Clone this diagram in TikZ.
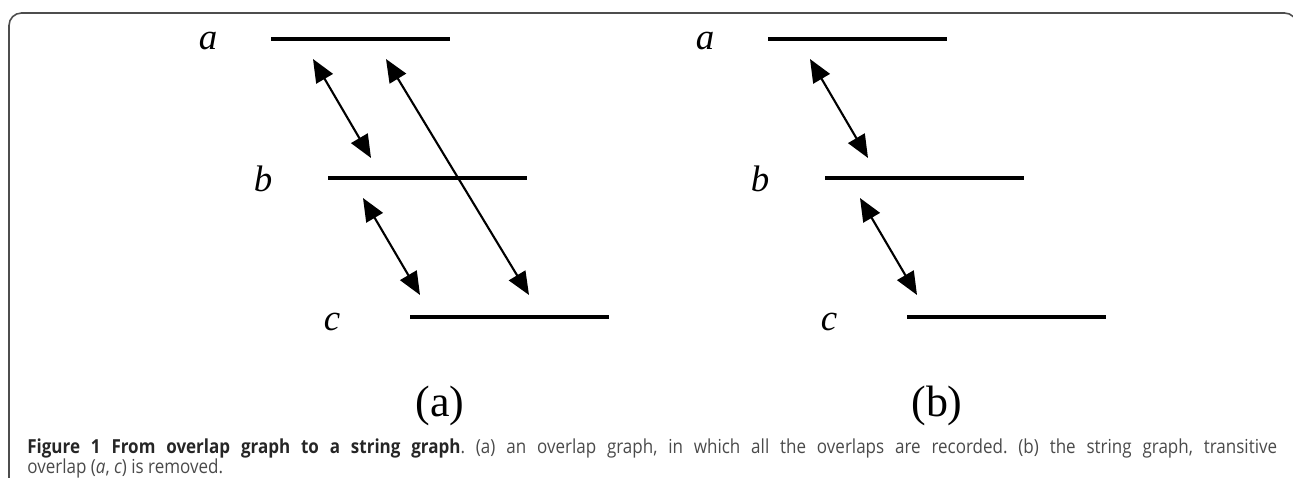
\documentclass[tikz,border=0pt]{standalone}
\usepackage{fontspec}
\setmainfont{Liberation Serif}
\newfontfamily\capfont[FakeStretch=0.88]{Open Sans}
\usetikzlibrary{arrows.meta}
\definecolor{framegray}{HTML}{4D4D4D}
\definecolor{captext}{HTML}{4A4A4A}
\definecolor{capbold}{HTML}{262626}

\begin{document}
\begin{tikzpicture}[x=0.02cm, y=-0.02cm, every node/.style={inner sep=0pt},
    strand/.style={line width=1.8pt},
    ovl/.style={line width=1.2pt, {Triangle[length=0.46cm,width=0.38cm]}-{Triangle[length=0.46cm,width=0.38cm]}},
    lbl/.style={font=\fontsize{21}{24}\selectfont\itshape, anchor=base},
    sub/.style={font=\fontsize{25}{28}\selectfont}]
    \useasboundingbox (0,0) rectangle (1293,477);
    \begin{scope}
        \clip (0,0) rectangle (1293,477);
        \draw[framegray, line width=0.9pt, rounded corners=0.25cm] (9,490) -- (9,13) -- (1297,13) -- (1297,490);
    \end{scope}
    \foreach \p/\dx in {a/0,b/497} {
        \node[lbl] (\p-a) at (208+\dx,49) {a};
        \node[lbl] (\p-b) at (263+\dx,191) {b};
        \node[lbl] (\p-c) at (332+\dx,330) {c};
        \coordinate (\p-a1) at (271+\dx,39); \coordinate (\p-a2) at (450+\dx,39);
        \coordinate (\p-b1) at (328+\dx,178); \coordinate (\p-b2) at (527+\dx,178);
        \coordinate (\p-c1) at (410+\dx,317); \coordinate (\p-c2) at (609+\dx,317);
        \draw[strand] (\p-a1)--(\p-a2) (\p-b1)--(\p-b2) (\p-c1)--(\p-c2);
        \coordinate (\p-ab1) at (313+\dx,59); \coordinate (\p-ab2) at (371+\dx,158);
        \coordinate (\p-bc1) at (363+\dx,198); \coordinate (\p-bc2) at (420+\dx,295);
        \draw[ovl] (\p-ab1)--(\p-ab2);
        \draw[ovl] (\p-bc1)--(\p-bc2);
        \node[sub] (\p-sub) at (440+\dx,406) {(\p)};
    }
    % transitive overlap, only in (a)
    \coordinate (a-ac1) at (386,59); \coordinate (a-ac2) at (529,295);
    \draw[ovl] (a-ac1)--(a-ac2);
    \node[anchor=north west, text width=25cm, align=justify, color=captext,
        font=\capfont\fontsize{11}{11.6}\selectfont\frenchspacing] (cap) at (27,438)
        {{\bfseries\color{capbold}Figure 1 From overlap graph to a string graph}. (a) an overlap graph, in which all the overlaps are recorded. (b) the string graph, transitive\linebreak overlap (\textit{a}, \textit{c}) is removed.};
\end{tikzpicture}
\end{document}
